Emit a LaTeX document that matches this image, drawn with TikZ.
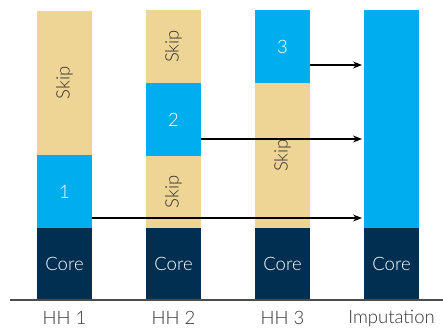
\documentclass[tikz,border=0pt]{standalone}
\usepackage{fontspec}
\setmainfont{Lato Light}
\usetikzlibrary{arrows.meta,positioning}
\definecolor{skipcol}{HTML}{EFD595}
\definecolor{blockcol}{HTML}{00AEEF}
\definecolor{corecol}{HTML}{002F52}
\definecolor{txtcol}{HTML}{333333}

\begin{document}
\begin{tikzpicture}[x=1pt,y=1pt,
    seg/.style={rectangle, inner sep=0pt, outer sep=0pt, minimum width=55pt,
                font=\fontsize{18.5}{20}\selectfont},
    coreseg/.style={seg, fill=corecol, text=white, minimum height=72pt},
    blockseg/.style={seg, fill=blockcol, text=white},
    skipseg/.style={seg, fill=skipcol,
                    label={[rotate=90, text=txtcol, font=\fontsize{18.5}{20}\selectfont]center:Skip}},
    hhlab/.style={text=txtcol, font=\fontsize{18.5}{20}\selectfont},
    arr/.style={black, line width=1.1pt, -{Stealth[length=9pt,width=7pt]}}]

  \useasboundingbox (0,0) rectangle (443,333);

  % ----- HH 1 -----
  \node[coreseg, anchor=south] (c1) at (64.5,33) {Core};
  \node[blockseg, minimum height=73pt, above=0pt of c1] (b1) {1};
  \node[skipseg, minimum height=144pt, above=0pt of b1] (s1) {};

  % ----- HH 2 -----
  \node[coreseg, anchor=south] (c2) at (173.5,33) {Core};
  \node[skipseg, minimum height=72pt, above=0pt of c2] (s2a) {};
  \node[blockseg, minimum height=73pt, above=0pt of s2a] (b2) {2};
  \node[skipseg, minimum height=73pt, above=0pt of b2] (s2b) {};

  % ----- HH 3 -----
  \node[coreseg, anchor=south] (c3) at (282.5,33) {Core};
  \node[skipseg, minimum height=145pt, above=0pt of c3] (s3) {};
  \node[blockseg, minimum height=73pt, above=0pt of s3] (b3) {3};

  % ----- imputation -----
  \node[coreseg, anchor=south] (c4) at (391.5,33) {Core};
  \node[blockseg, minimum height=218pt, above=0pt of c4] (imp) {};

  % ----- axis and labels -----
  \draw[black!70, line width=1.1pt] (10,33) -- (443,33);
  \node[hhlab] at ([yshift=-18pt]c1.south) {HH 1};
  \node[hhlab] at ([yshift=-18pt]c2.south) {HH 2};
  \node[hhlab] at ([yshift=-18pt]c3.south) {HH 3};
  \node[hhlab] at ([yshift=-18pt]c4.south) {Imputation};

  % ----- arrows -----
  \coordinate (a1) at ([yshift=10pt]b1.south east);
  \coordinate (a2) at ([yshift=17pt]b2.south east);
  \coordinate (a3) at ([yshift=18pt]b3.south east);
  \draw[arr] (a1) -- ([xshift=-2pt]a1 -| imp.west);
  \draw[arr] (a2) -- ([xshift=-2pt]a2 -| imp.west);
  \draw[arr] (a3) -- ([xshift=-2pt]a3 -| imp.west);

\end{tikzpicture}
\end{document}
